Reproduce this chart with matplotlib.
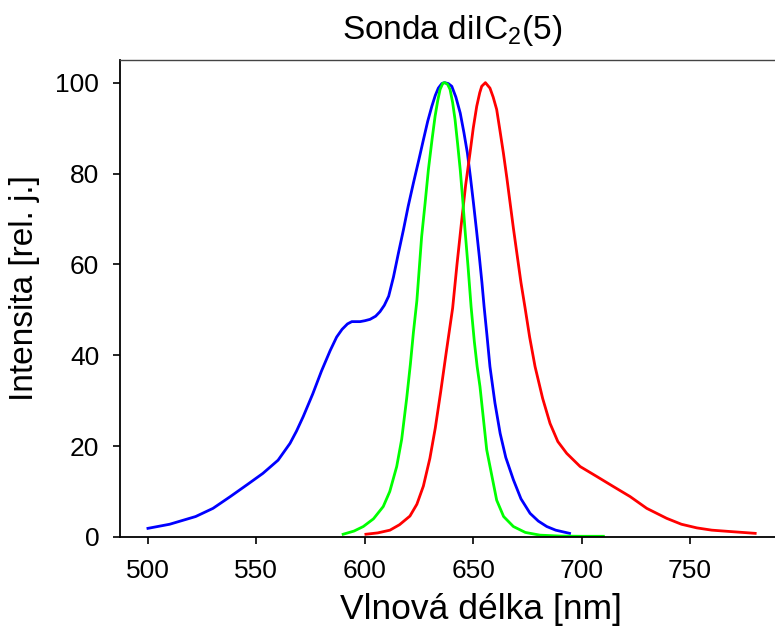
import matplotlib
matplotlib.use('Agg')
import matplotlib.pyplot as plt

# spectra (wavelength nm, intensity rel. units)
blue_nm = [500, 510, 522, 530, 538, 546, 553, 560, 565.5, 568.5, 571.6, 576, 580, 584, 587, 589.5,
           592, 594, 597.8, 600, 602.4, 605, 607, 609, 611, 613.2, 615.5, 617.8, 620, 622.4,
           625, 627, 629, 630.9, 632.5, 633.9, 635.5, 636.7, 638.5, 640.1, 642, 644, 645.7,
           647.3, 648.7, 650.1, 651.5, 652.8, 654, 655, 656.3, 657.7, 660, 662.4, 665, 668.5,
           672, 676.2, 680, 683.9, 688, 694.4]
blue_val = [1.9, 2.8, 4.5, 6.3, 8.9, 11.6, 14.0, 16.9, 20.6, 23.3, 26.5, 31.5, 36.5, 41.0, 44.0, 45.7,
            46.9, 47.4, 47.4, 47.6, 47.9, 48.6, 49.6, 51.0, 53.0, 57.2, 62.5, 67.6, 72.8, 77.9,
            83.2, 87.4, 91.5, 94.8, 97.2, 98.8, 99.8, 100, 99.8, 99.2, 96.8, 93.3, 89.0,
            84.5, 79.2, 73.5, 67.5, 61.7, 56.0, 50.7, 44.5, 37.5, 29.5, 22.8, 17.5, 12.6,
            8.4, 5.2, 3.5, 2.3, 1.5, 0.8]

green_nm = [590, 595, 599.3, 604, 608.5, 611.5, 614.7, 617, 619.3, 621, 622.4, 624, 626.2, 627.8,
            629.3, 631, 632.4, 633.6, 634.7, 636, 637, 638.2, 639.3, 640.5, 641.6, 642.8, 644,
            645.1, 646.2, 647.6, 649, 650.5, 651.8, 653.1, 656.2, 660.8, 664, 668.5, 674, 680.8,
            690, 700, 710]
green_val = [0.6, 1.3, 2.3, 4.0, 6.7, 10.0, 15.5, 21.5, 30.5, 38, 45, 52, 66.1, 73.5,
             80.8, 87.5, 92.6, 96.0, 98.5, 99.9, 100, 99.6, 98.5, 95.6, 91.9, 86.5, 80.8,
             74.5, 67.6, 59.5, 50.7, 43, 37.5, 33.1, 19.2, 8.1, 4.5, 2.3, 1.0, 0.4,
             0.2, 0.15, 0.15]

red_nm = [600.5, 606, 611.6, 616, 620.8, 624, 627, 630, 632.5, 635, 637.5, 640.5, 642.5, 644.7,
          646.5, 648.5, 650, 651.6, 653, 653.9, 655.6, 657.7, 659.2, 660.8, 662.3, 663.9, 665.5,
          667, 668.5, 670.1, 672, 673.9, 676, 678.5, 682, 685.4, 689, 693.1, 699.3, 707, 714.6,
          722.3, 730, 739.2, 746, 753.1, 760, 768.4, 780]
red_val = [0.6, 0.9, 1.5, 2.7, 4.6, 7.2, 11.2, 17.3, 24, 32, 40.5, 50.4, 60, 69.8,
           77.5, 84.5, 90, 94.8, 97.8, 99.2, 100, 98.8, 96.8, 94.1, 89.5, 84.5, 79,
           73.5, 68, 62.5, 56, 50.4, 44, 37.5, 30.5, 25, 21, 18.4, 15.5, 13.3, 11.1,
           8.9, 6.3, 4.1, 2.8, 2.0, 1.5, 1.2, 0.8]

x_ticks = [500, 550, 600, 650, 700, 750]
y_ticks = [0, 20, 40, 60, 80, 100]

plt.rcParams['font.family'] = ['Liberation Sans', 'DejaVu Sans']
plt.rcParams['mathtext.fontset'] = 'custom'
plt.rcParams['mathtext.rm'] = 'Liberation Sans'
plt.rcParams['mathtext.it'] = 'Liberation Sans'

fig = plt.figure(figsize=(7.75, 6.33), dpi=100)
ax = fig.add_axes([0.1548, 0.1517, 0.8756, 0.7536])

ax.plot(blue_nm, blue_val, color='#0000ff', lw=2.0)
ax.plot(red_nm, red_val, color='#ff0000', lw=2.0)
ax.plot(green_nm, green_val, color='#00ff00', lw=2.0)

ax.set_xlim(487.1, 800)
ax.set_ylim(0, 105)
ax.set_xticks(x_ticks)
ax.set_yticks(y_ticks)
ax.tick_params(direction='out', length=5, width=1.2, labelsize=19, top=False, right=False)
ax.tick_params(axis='x', pad=11)
ax.tick_params(axis='y', pad=10)

for s in ('left', 'bottom'):
    ax.spines[s].set_linewidth(1.3)
    ax.spines[s].set_color('black')
ax.spines['top'].set_linewidth(1.0)
ax.spines['top'].set_color('#444444')
ax.spines['right'].set_visible(False)

fig.text(452 / 775, 1 - 30 / 633, 'Sonda diIC$_2$(5)', ha='center', va='center', fontsize=24)
fig.text(481 / 775, 1 - 610 / 633, 'Vlnová délka [nm]', ha='center', va='center', fontsize=25.5)
fig.text(25 / 775, 1 - 288 / 633, 'Intensita [rel. j.]', ha='center', va='center',
         rotation=90, fontsize=24)

fig.savefig('out.png', dpi=100)
